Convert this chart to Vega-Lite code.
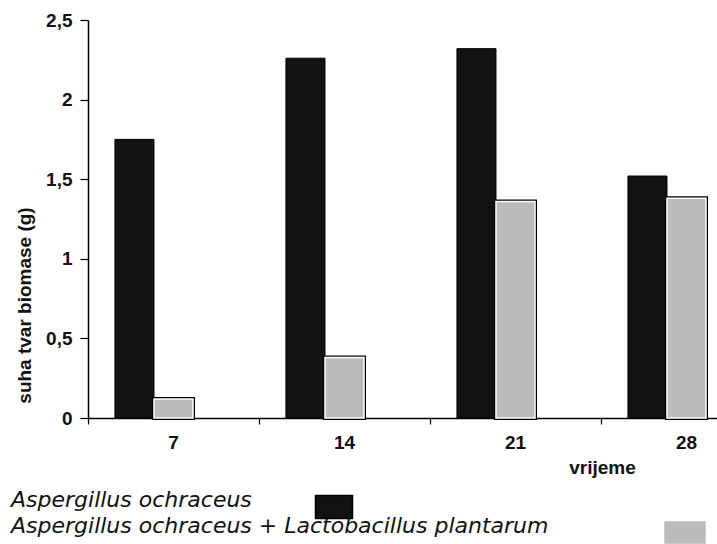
{
  "$schema": "https://vega.github.io/schema/vega-lite/v6.json",
  "width": 629,
  "height": 398,
  "autosize": {"type": "none"},
  "padding": {"left": 88, "top": 20, "right": 0, "bottom": 126},
  "background": "white",
  "config": {
    "view": {"stroke": null},
    "axis": {
      "grid": false,
      "domainColor": "#000",
      "domainWidth": 1.5,
      "tickColor": "#000",
      "tickWidth": 1.2,
      "labelFont": "Liberation Sans",
      "titleFont": "Liberation Sans",
      "labelColor": "#111",
      "titleColor": "#111"
    },
    "legend": {"padding": 0}
  },
  "data": {
    "values": [
      {"dan": "7", "serija": "Aspergillus ochraceus", "suha_tvar": 1.75},
      {"dan": "7", "serija": "Aspergillus ochraceus + Lactobacillus plantarum", "suha_tvar": 0.12},
      {"dan": "14", "serija": "Aspergillus ochraceus", "suha_tvar": 2.26},
      {"dan": "14", "serija": "Aspergillus ochraceus + Lactobacillus plantarum", "suha_tvar": 0.38},
      {"dan": "21", "serija": "Aspergillus ochraceus", "suha_tvar": 2.32},
      {"dan": "21", "serija": "Aspergillus ochraceus + Lactobacillus plantarum", "suha_tvar": 1.36},
      {"dan": "28", "serija": "Aspergillus ochraceus", "suha_tvar": 1.52},
      {"dan": "28", "serija": "Aspergillus ochraceus + Lactobacillus plantarum", "suha_tvar": 1.38}
    ]
  },
  "encoding": {
    "x": {
      "field": "dan",
      "type": "ordinal",
      "sort": ["7", "14", "21", "28"],
      "scale": {"range": [0, 684], "paddingInner": 0, "paddingOuter": 0},
      "axis": {
        "title": "vrijeme",
        "bandPosition": 0,
        "labelAngle": 0,
        "tickSize": 6,
        "labelPadding": 9,
        "labelFontSize": 19,
        "labelFontWeight": "bold",
        "titleFontSize": 19,
        "titleFontWeight": "bold",
        "titleX": 514,
        "titleY": 49,
        "titleAlign": "center",
        "titleBaseline": "middle"
      }
    },
    "xOffset": {
      "field": "serija",
      "scale": {
        "domain": ["Aspergillus ochraceus", "Aspergillus ochraceus + Lactobacillus plantarum", "prazno"],
        "paddingInner": 0,
        "paddingOuter": 0.69
      }
    },
    "y": {
      "field": "suha_tvar",
      "type": "quantitative",
      "stack": null,
      "scale": {"domain": [0, 2.5], "nice": false},
      "axis": {
        "title": "suha tvar biomase  (g)",
        "values": [0, 0.5, 1, 1.5, 2, 2.5],
        "labelExpr": "replace(toString(datum.value), '.', ',')",
        "tickSize": 8,
        "labelPadding": 8,
        "labelFontSize": 19,
        "labelFontWeight": "bold",
        "titleFontSize": 19,
        "titleFontWeight": "bold",
        "titleX": -64,
        "titleY": 285,
        "titleAlign": "center",
        "titleBaseline": "middle"
      }
    }
  },
  "layer": [
    {
      "transform": [{"filter": "datum.serija === 'Aspergillus ochraceus'"}],
      "mark": {"type": "bar", "stroke": "#000", "strokeWidth": 1},
      "encoding": {
        "color": {
          "field": "serija",
          "type": "nominal",
          "scale": {"domain": ["Aspergillus ochraceus"], "range": ["#121212"]},
          "legend": {
            "orient": "none",
            "legendX": -78,
            "legendY": 467.5,
            "title": null,
            "symbolType": "M-1,-0.62H1V0.62H-1Z",
            "symbolSize": 1369,
            "symbolOffset": 304.5,
            "labelOffset": -342.5,
            "labelFont": "DejaVu Sans",
            "labelFontStyle": "italic",
            "labelFontSize": 22,
            "labelColor": "#111",
            "labelLimit": 0,
            "labelBaseline": "alphabetic",
            "encode": {
              "symbols": {"update": {"stroke": {"value": "#333"}, "strokeWidth": {"value": 1}}}
            }
          }
        }
      }
    },
    {
      "transform": [{"filter": "datum.serija !== 'Aspergillus ochraceus'"}],
      "mark": {"type": "bar", "fill": "#bcbcbc", "stroke": "#000", "strokeWidth": 4}
    },
    {
      "transform": [{"filter": "datum.serija !== 'Aspergillus ochraceus'"}],
      "mark": {"type": "bar", "stroke": "#fff", "strokeWidth": 1.5},
      "encoding": {
        "color": {
          "field": "serija",
          "type": "nominal",
          "scale": {"domain": ["Aspergillus ochraceus + Lactobacillus plantarum"], "range": ["#bcbcbc"]},
          "legend": {
            "orient": "none",
            "legendX": -78,
            "legendY": 490,
            "title": null,
            "symbolType": "M-1,-0.56H1V0.56H-1Z",
            "symbolSize": 1849,
            "symbolOffset": 652.5,
            "labelOffset": -696.5,
            "labelFont": "DejaVu Sans",
            "labelFontStyle": "italic",
            "labelFontSize": 22,
            "labelColor": "#111",
            "labelLimit": 0,
            "labelBaseline": "alphabetic",
            "encode": {
              "symbols": {"update": {"stroke": {"value": "#999"}, "strokeWidth": {"value": 1}}}
            }
          }
        }
      }
    }
  ],
  "resolve": {"scale": {"color": "independent"}}
}
